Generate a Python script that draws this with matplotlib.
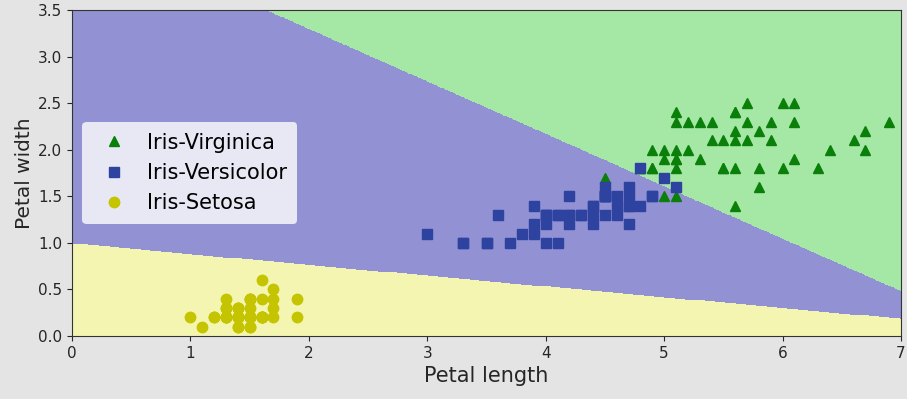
import numpy as np
import matplotlib
matplotlib.use("Agg")
import matplotlib.pyplot as plt
from matplotlib.colors import ListedColormap

# Iris petal measurements (length, width)
setosa_len = [1.4,1.4,1.3,1.5,1.4,1.7,1.4,1.5,1.4,1.5,1.5,1.6,1.4,1.1,1.2,1.5,1.3,1.4,1.7,1.5,
              1.7,1.5,1.0,1.7,1.9,1.6,1.6,1.5,1.4,1.6,1.6,1.5,1.5,1.4,1.5,1.2,1.3,1.4,1.3,1.5,
              1.3,1.3,1.3,1.6,1.9,1.4,1.6,1.4,1.5,1.4]
setosa_wid = [0.2,0.2,0.2,0.2,0.2,0.4,0.3,0.2,0.2,0.1,0.2,0.2,0.1,0.1,0.2,0.4,0.4,0.3,0.3,0.3,
              0.2,0.4,0.2,0.5,0.2,0.2,0.4,0.2,0.2,0.2,0.2,0.4,0.1,0.2,0.2,0.2,0.2,0.1,0.2,0.2,
              0.3,0.3,0.2,0.6,0.4,0.3,0.2,0.2,0.2,0.2]
versi_len = [4.7,4.5,4.9,4.0,4.6,4.5,4.7,3.3,4.6,3.9,3.5,4.2,4.0,4.7,3.6,4.4,4.5,4.1,4.5,3.9,
             4.8,4.0,4.9,4.7,4.3,4.4,4.8,5.0,4.5,3.5,3.8,3.7,3.9,5.1,4.5,4.5,4.7,4.4,4.1,4.0,
             4.4,4.6,4.0,3.3,4.2,4.2,4.2,4.3,3.0,4.1]
versi_wid = [1.4,1.5,1.5,1.3,1.5,1.3,1.6,1.0,1.3,1.4,1.0,1.5,1.0,1.4,1.3,1.4,1.5,1.0,1.5,1.1,
             1.8,1.3,1.5,1.2,1.3,1.4,1.4,1.7,1.5,1.0,1.1,1.0,1.2,1.6,1.5,1.6,1.5,1.3,1.3,1.3,
             1.2,1.4,1.2,1.0,1.3,1.2,1.3,1.3,1.1,1.3]
virg_len = [6.0,5.1,5.9,5.6,5.8,6.6,4.5,6.3,5.8,6.1,5.1,5.3,5.5,5.0,5.1,5.3,5.5,6.7,6.9,5.0,
            5.7,4.9,6.7,4.9,5.7,6.0,4.8,4.9,5.6,5.8,6.1,6.4,5.6,5.1,5.6,6.1,5.6,5.5,4.8,5.4,
            5.6,5.1,5.1,5.9,5.7,5.2,5.0,5.2,5.4,5.1]
virg_wid = [2.5,1.9,2.1,1.8,2.2,2.1,1.7,1.8,1.8,2.5,2.0,1.9,2.1,2.0,2.4,2.3,1.8,2.2,2.3,1.5,
            2.3,2.0,2.0,1.8,2.1,1.8,1.8,1.8,2.1,1.6,1.9,2.0,2.2,1.5,1.4,2.3,2.4,1.8,1.8,2.1,
            2.4,2.3,1.9,2.3,2.5,2.3,1.9,2.0,2.3,1.8]

# Decision boundaries (width = intercept + slope * length)
boundary_setosa_versi = (1.0, -0.1157)
boundary_versi_virg = (4.429, -0.563)

region_colors = ['#f5f5b2', '#9191d4', '#a5e8a5']

fig = plt.figure(figsize=(9.07, 3.99), dpi=100, facecolor='#e4e4e4')
ax = fig.add_axes([0.0794, 0.158, 0.9140, 0.817])

x0, x1 = np.meshgrid(np.linspace(0, 7, 700), np.linspace(0, 3.5, 350))
zz = np.ones_like(x0)
zz[x1 < boundary_setosa_versi[0] + boundary_setosa_versi[1] * x0] = 0
zz[x1 > boundary_versi_virg[0] + boundary_versi_virg[1] * x0] = 2
ax.contourf(x0, x1, zz, levels=[-0.5, 0.5, 1.5, 2.5], cmap=ListedColormap(region_colors))

ax.plot(virg_len, virg_wid, '^', color='#0a7f0a', markersize=7.5, label='Iris-Virginica')
ax.plot(versi_len, versi_wid, 's', color='#2e43a0', markersize=7.5, label='Iris-Versicolor')
ax.plot(setosa_len, setosa_wid, 'o', color='#c4c400', markersize=7.5, label='Iris-Setosa')

ax.set_xlim(0, 7)
ax.set_ylim(0, 3.5)
ax.set_xlabel('Petal length', fontsize=15, color='#262626', labelpad=4)
ax.set_ylabel('Petal width', fontsize=14.5, color='#262626', labelpad=3)
ax.tick_params(labelsize=11, colors='#262626')
for s in ax.spines.values():
    s.set_color('#333333')
leg = ax.legend(loc='center left', fontsize=15, frameon=True, facecolor='#e8e8f4',
                edgecolor='none', framealpha=1.0, borderpad=0.5, handletextpad=0.6,
                bbox_to_anchor=(0.0, 0.5))

fig.savefig('out.png', dpi=100, facecolor=fig.get_facecolor())
